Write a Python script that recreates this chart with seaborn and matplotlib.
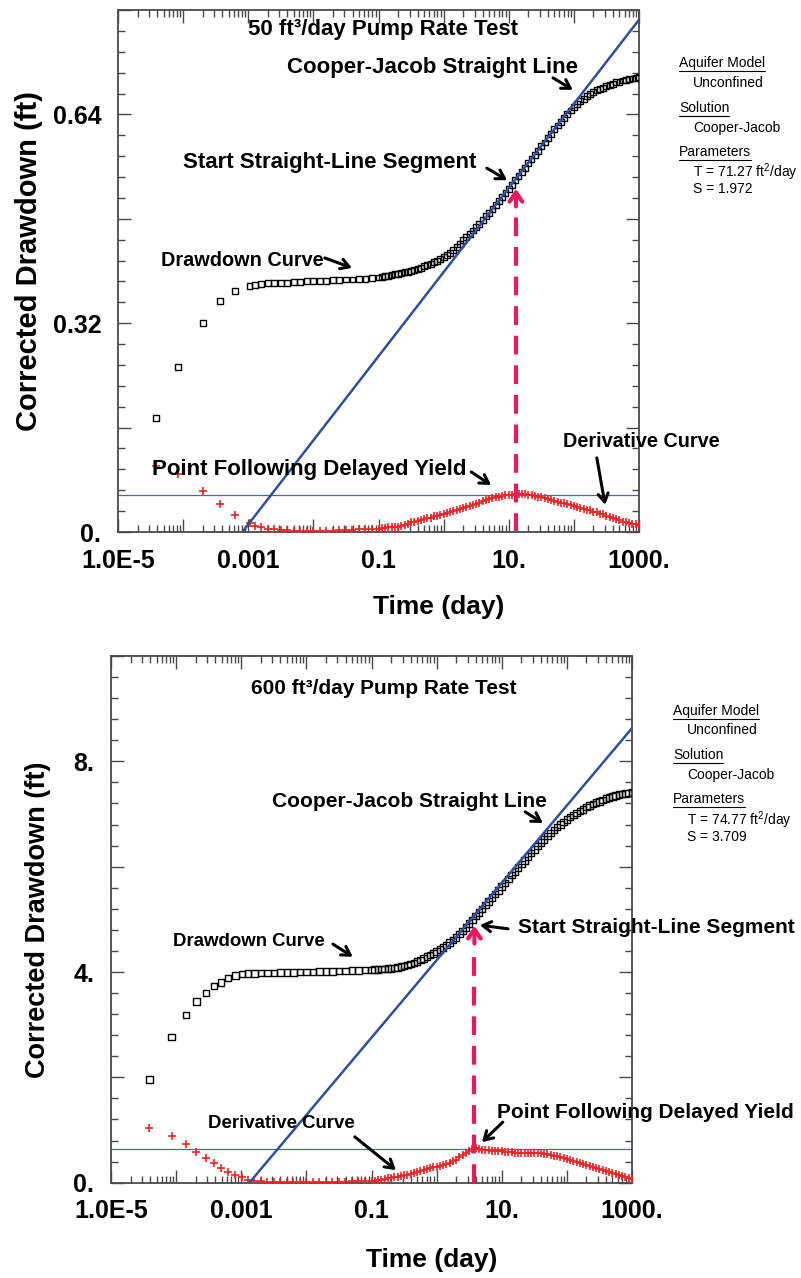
import numpy as np
import pandas as pd
import matplotlib
matplotlib.use("Agg")
import matplotlib.pyplot as plt
import seaborn as sns
from matplotlib.ticker import MultipleLocator, LogLocator, FuncFormatter, NullFormatter
from matplotlib.lines import Line2D

# ---------------------------------------------------------------------------
# Pumping-test data (time given as log10 of days)
# ---------------------------------------------------------------------------
LATE_LOG_T = [
    -2.9, -2.8, -2.7, -2.6, -2.5, -2.4, -2.3, -2.2, -2.1, -2.0,
    -1.9, -1.8, -1.7, -1.6, -1.5, -1.4, -1.3, -1.2, -1.1, -1.0,
    -0.95, -0.90, -0.85, -0.80, -0.75, -0.70, -0.65, -0.60, -0.55, -0.50,
    -0.45, -0.40, -0.35, -0.30, -0.25, -0.20, -0.15, -0.10, -0.05, 0.00,
    0.05, 0.10, 0.15, 0.20, 0.25, 0.30, 0.35, 0.40, 0.45, 0.50,
    0.55, 0.60, 0.65, 0.70, 0.75, 0.80, 0.85, 0.90, 0.95, 1.00,
    1.05, 1.10, 1.15, 1.20, 1.25, 1.30, 1.35, 1.40, 1.45, 1.50,
    1.55, 1.60, 1.65, 1.70, 1.75, 1.80, 1.85, 1.90, 1.95, 2.00,
    2.05, 2.10, 2.15, 2.20, 2.25, 2.30, 2.35, 2.40, 2.45, 2.50,
    2.55, 2.60, 2.65, 2.70, 2.75, 2.80, 2.85, 2.90, 2.95, 3.00,
]

# 50 ft3/day test
LOW_EARLY_LOG_T = [-4.42, -4.08, -3.69, -3.43, -3.20, -2.98]
LOW_EARLY_DRAWDOWN = [0.175, 0.253, 0.320, 0.354, 0.369, 0.377]
LOW_EARLY_DERIV = [0.101, 0.089, 0.063, 0.043, 0.026, 0.014]
LOW_LATE_DRAWDOWN = [
    0.379, 0.380, 0.381, 0.381, 0.382, 0.382, 0.383, 0.383, 0.384, 0.384,
    0.385, 0.385, 0.386, 0.386, 0.387, 0.387, 0.388, 0.388, 0.389, 0.390,
    0.391, 0.392, 0.393, 0.394, 0.395, 0.396, 0.397, 0.398, 0.399, 0.400,
    0.402, 0.403, 0.405, 0.407, 0.409, 0.411, 0.414, 0.416, 0.419, 0.421,
    0.424, 0.428, 0.432, 0.437, 0.442, 0.447, 0.452, 0.457, 0.462, 0.467,
    0.472, 0.478, 0.484, 0.489, 0.495, 0.501, 0.507, 0.513, 0.520, 0.526,
    0.532, 0.539, 0.545, 0.552, 0.558, 0.565, 0.571, 0.578, 0.584, 0.591,
    0.597, 0.604, 0.610, 0.617, 0.623, 0.629, 0.635, 0.641, 0.646, 0.651,
    0.656, 0.660, 0.664, 0.668, 0.671, 0.674, 0.677, 0.679, 0.681, 0.683,
    0.685, 0.687, 0.689, 0.690, 0.692, 0.693, 0.694, 0.695, 0.696, 0.697,
]
LOW_LATE_DERIV = [
    0.009, 0.007, 0.005, 0.004, 0.003, 0.003, 0.002, 0.002, 0.002, 0.002,
    0.002, 0.002, 0.002, 0.003, 0.003, 0.003, 0.004, 0.004, 0.005, 0.005,
    0.006, 0.006, 0.007, 0.007, 0.008, 0.008, 0.009, 0.011, 0.013, 0.015,
    0.016, 0.017, 0.019, 0.020, 0.021, 0.022, 0.024, 0.025, 0.026, 0.027,
    0.029, 0.030, 0.032, 0.034, 0.035, 0.037, 0.039, 0.040, 0.042, 0.043,
    0.045, 0.047, 0.049, 0.050, 0.052, 0.053, 0.054, 0.055, 0.056, 0.057,
    0.057, 0.058, 0.058, 0.058, 0.058, 0.057, 0.056, 0.055, 0.054, 0.053,
    0.052, 0.050, 0.049, 0.048, 0.046, 0.045, 0.044, 0.043, 0.041, 0.040,
    0.039, 0.037, 0.036, 0.034, 0.033, 0.031, 0.030, 0.028, 0.027, 0.025,
    0.023, 0.021, 0.020, 0.018, 0.016, 0.015, 0.014, 0.013, 0.012, 0.011,
]
LOW_CJ_LOG_T = [-3.09, 3.0]
LOW_CJ_DRAWDOWN = [0.0, 0.785]
LOW_PEAK_DERIV = 0.057
LOW_SEG_LOG_T = 1.11
LOW_SEG_DRAWDOWN = 0.526

# 600 ft3/day test
HIGH_EARLY_LOG_T = [-4.41, -4.07, -3.85, -3.69, -3.54, -3.42, -3.31, -3.20, -3.09, -2.99]
HIGH_EARLY_DRAWDOWN = [1.96, 2.77, 3.18, 3.44, 3.60, 3.73, 3.80, 3.89, 3.93, 3.96]
HIGH_EARLY_DERIV = [1.03, 0.89, 0.73, 0.58, 0.47, 0.38, 0.285, 0.20, 0.15, 0.10]
HIGH_LATE_DRAWDOWN = [
    3.97, 3.97, 3.98, 3.98, 3.98, 3.99, 3.99, 3.99, 4.00, 4.00,
    4.00, 4.01, 4.01, 4.01, 4.02, 4.02, 4.03, 4.03, 4.04, 4.04,
    4.05, 4.05, 4.06, 4.06, 4.07, 4.07, 4.08, 4.09, 4.10, 4.11,
    4.13, 4.15, 4.17, 4.20, 4.23, 4.26, 4.29, 4.32, 4.35, 4.39,
    4.43, 4.47, 4.51, 4.56, 4.61, 4.66, 4.72, 4.78, 4.85, 4.92,
    4.99, 5.06, 5.13, 5.20, 5.27, 5.34, 5.41, 5.48, 5.55, 5.62,
    5.69, 5.77, 5.84, 5.91, 5.98, 6.05, 6.12, 6.19, 6.26, 6.33,
    6.39, 6.46, 6.52, 6.58, 6.64, 6.70, 6.75, 6.80, 6.85, 6.90,
    6.94, 6.98, 7.02, 7.06, 7.09, 7.13, 7.16, 7.19, 7.22, 7.24,
    7.27, 7.29, 7.31, 7.33, 7.35, 7.37, 7.38, 7.39, 7.40, 7.41,
]
HIGH_LATE_DERIV = [
    0.06, 0.04, 0.03, 0.02, 0.02, 0.02, 0.02, 0.02, 0.02, 0.02,
    0.02, 0.02, 0.02, 0.02, 0.02, 0.02, 0.03, 0.03, 0.03, 0.03,
    0.04, 0.05, 0.06, 0.07, 0.08, 0.09, 0.10, 0.11, 0.12, 0.14,
    0.15, 0.17, 0.19, 0.21, 0.22, 0.24, 0.26, 0.27, 0.29, 0.30,
    0.32, 0.34, 0.36, 0.38, 0.41, 0.44, 0.48, 0.52, 0.56, 0.60,
    0.64, 0.65, 0.64, 0.63, 0.63, 0.62, 0.61, 0.61, 0.60, 0.60,
    0.59, 0.58, 0.58, 0.57, 0.57, 0.57, 0.56, 0.56, 0.56, 0.56,
    0.56, 0.56, 0.55, 0.54, 0.53, 0.51, 0.50, 0.48, 0.47, 0.45,
    0.43, 0.41, 0.39, 0.37, 0.35, 0.33, 0.31, 0.29, 0.27, 0.26,
    0.24, 0.22, 0.20, 0.18, 0.16, 0.14, 0.12, 0.10, 0.09, 0.07,
]
HIGH_CJ_LOG_T = [-2.875, 3.0]
HIGH_CJ_DRAWDOWN = [0.0, 8.63]
HIGH_PEAK_DERIV = 0.64
HIGH_SEG_LOG_T = 0.58
HIGH_SEG_DRAWDOWN = 4.88

X_TICK_LABELS = {-5: "1.0E-5", -3: "0.001", -1: "0.1", 1: "10.", 3: "1000."}

# ---------------------------------------------------------------------------
sns.set_theme(style="ticks")
plt.rcParams["font.family"] = ["Liberation Sans", "DejaVu Sans"]
plt.rcParams["mathtext.fontset"] = "custom"
plt.rcParams["mathtext.rm"] = "Liberation Sans"
plt.rcParams["text.color"] = "black"
plt.rcParams["axes.labelcolor"] = "black"
plt.rcParams["xtick.labelcolor"] = "black"
plt.rcParams["ytick.labelcolor"] = "black"

BLUE = "#2f4fa2"
HBLUE = "#4a67ad"
RED = "#ee2424"
MAGENTA = "#e8195e"
FRAME = "#4a4a4a"

W, H = 801, 1278
fig = plt.figure(figsize=(W / 100, H / 100), dpi=100)


def px_axes(left, top, right, bottom):
    return fig.add_axes([left / W, 1 - bottom / H, (right - left) / W, (bottom - top) / H])


ax_top = px_axes(118, 10, 639, 532)
ax_bot = px_axes(111, 656, 632, 1182.7)


def panel_frames(early_t, early_s, early_d, late_s, late_d):
    t = 10.0 ** np.array(list(early_t) + LATE_LOG_T)
    dd = pd.DataFrame({"time": t, "drawdown": list(early_s) + list(late_s)})
    dv = pd.DataFrame({"time": t, "derivative": list(early_d) + list(late_d)})
    return dd, dv


def style_axes(ax, ymax, major, minor, label_step, fmt):
    ax.set_xscale("log")
    ax.set_xlim(1e-5, 1e3)
    ax.set_ylim(0, ymax)
    ax.xaxis.set_major_locator(LogLocator(base=10, numticks=20))
    ax.xaxis.set_minor_locator(LogLocator(base=10, subs=np.arange(2, 10), numticks=20))
    ax.xaxis.set_minor_formatter(NullFormatter())
    ax.xaxis.set_major_formatter(FuncFormatter(
        lambda v, p: X_TICK_LABELS.get(int(round(np.log10(v))), "") if v > 0 else ""))
    ax.yaxis.set_major_locator(MultipleLocator(major))
    ax.yaxis.set_minor_locator(MultipleLocator(minor))

    def yfmt(v, p):
        if abs(v) < 1e-9:
            return "0."
        q = v / label_step
        if abs(q - round(q)) < 1e-6:
            return fmt(v)
        return ""

    ax.yaxis.set_major_formatter(FuncFormatter(yfmt))
    ax.tick_params(which="both", direction="in", top=True, right=True, color=FRAME, width=1.0)
    ax.tick_params(which="major", length=9.5)
    ax.tick_params(which="minor", length=5)
    ax.tick_params(axis="x", which="major", pad=12, labelsize=18)
    ax.tick_params(axis="y", which="major", pad=12, labelsize=18)
    for lab in ax.get_xticklabels() + ax.get_yticklabels():
        lab.set_fontweight("bold")
    for sp in ax.spines.values():
        sp.set_color(FRAME)
        sp.set_linewidth(1.3)
    ax.grid(False)


def draw_panel(ax, dd, dv, cj_t, cj_s, peak, seg_t, seg_s, ymax, sq, cross):
    sns.scatterplot(data=dd, x="time", y="drawdown", ax=ax, marker="s", s=sq,
                    color="black", facecolor="none", edgecolor="black",
                    linewidth=1.0, legend=False, zorder=3)
    sns.scatterplot(data=dv, x="time", y="derivative", ax=ax, marker="+", s=cross,
                    color=RED, linewidth=1.2, legend=False, zorder=3)
    sns.lineplot(x=10.0 ** np.array(cj_t), y=cj_s, ax=ax, color=BLUE, lw=1.8, zorder=4)
    ax.axhline(peak, color=HBLUE, lw=0.9, zorder=2)
    seg = 10.0 ** seg_t
    head = 0.045 * ymax
    ax.plot([seg, seg], [0, seg_s - head * 0.9], color=MAGENTA, lw=3,
            ls=(0, (4.5, 2.6)), zorder=5, solid_capstyle="butt")
    ax.annotate("", xy=(seg, seg_s), xytext=(seg, seg_s - head * 0.75),
                arrowprops=dict(arrowstyle="->,head_length=0.55,head_width=0.38",
                                color=MAGENTA, lw=3, shrinkA=0, shrinkB=0), zorder=6)
    ax.set_xlabel("")
    ax.set_ylabel("")


def note(ax, text, x, y, size, ha="left"):
    ax.text(x, y, text, transform=ax.transAxes, fontsize=size, fontweight="bold",
            color="black", ha=ha, va="center", clip_on=False, zorder=7)


def pointer(ax, tail, head):
    ax.annotate("", xy=head, xytext=tail, xycoords="axes fraction",
                textcoords="axes fraction", annotation_clip=False,
                arrowprops=dict(arrowstyle="->,head_length=0.5,head_width=0.3",
                                color="black", lw=2.2, shrinkA=0, shrinkB=0), zorder=7)


# ---------------------------- 50 ft3/day panel -----------------------------
dd_low, dv_low = panel_frames(LOW_EARLY_LOG_T, LOW_EARLY_DRAWDOWN, LOW_EARLY_DERIV,
                              LOW_LATE_DRAWDOWN, LOW_LATE_DERIV)
draw_panel(ax_top, dd_low, dv_low, LOW_CJ_LOG_T, LOW_CJ_DRAWDOWN, LOW_PEAK_DERIV,
           LOW_SEG_LOG_T, LOW_SEG_DRAWDOWN, 0.8, 18, 30)
style_axes(ax_top, 0.8, 0.16, 0.032, 0.32, lambda v: f"{v:.2f}")

note(ax_top, "50 ft\u00b3/day Pump Rate Test", 0.509, 0.962, 16, ha="center")
note(ax_top, "Cooper-Jacob Straight Line", 0.324, 0.889, 16)
pointer(ax_top, (0.835, 0.870), (0.873, 0.847))
note(ax_top, "Start Straight-Line Segment", 0.125, 0.707, 16)
pointer(ax_top, (0.708, 0.697), (0.747, 0.674))
note(ax_top, "Drawdown Curve", 0.0825, 0.521, 14.3)
pointer(ax_top, (0.397, 0.525), (0.449, 0.506))
note(ax_top, "Point Following Delayed Yield", 0.065, 0.119, 16)
pointer(ax_top, (0.678, 0.115), (0.716, 0.090))
note(ax_top, "Derivative Curve", 0.854, 0.174, 14.3)
pointer(ax_top, (0.919, 0.142), (0.935, 0.052))

ax_top.set_ylabel("Corrected Drawdown (ft)", fontsize=21, fontweight="bold", va="center")
ax_top.yaxis.set_label_coords(-0.171, 0.519)
ax_top.set_xlabel("Time (day)", fontsize=19, fontweight="bold", va="center")
ax_top.xaxis.set_label_coords(0.615, -0.144)

# ---------------------------- 600 ft3/day panel ----------------------------
dd_high, dv_high = panel_frames(HIGH_EARLY_LOG_T, HIGH_EARLY_DRAWDOWN, HIGH_EARLY_DERIV,
                                HIGH_LATE_DRAWDOWN, HIGH_LATE_DERIV)
draw_panel(ax_bot, dd_high, dv_high, HIGH_CJ_LOG_T, HIGH_CJ_DRAWDOWN, HIGH_PEAK_DERIV,
           HIGH_SEG_LOG_T, HIGH_SEG_DRAWDOWN, 10.0, 22, 34)
style_axes(ax_bot, 10.0, 2.0, 0.4, 4.0, lambda v: f"{v:.0f}.")

note(ax_bot, "600 ft\u00b3/day Pump Rate Test", 0.524, 0.939, 15, ha="center")
note(ax_bot, "Cooper-Jacob Straight Line", 0.309, 0.723, 15)
pointer(ax_bot, (0.795, 0.704), (0.829, 0.683))
note(ax_bot, "Drawdown Curve", 0.119, 0.457, 13.4)
pointer(ax_bot, (0.426, 0.453), (0.464, 0.429))
note(ax_bot, "Start Straight-Line Segment", 0.781, 0.484, 15)
pointer(ax_bot, (0.762, 0.482), (0.708, 0.489))
note(ax_bot, "Derivative Curve", 0.186, 0.113, 13.4)
pointer(ax_bot, (0.468, 0.087), (0.547, 0.024))
note(ax_bot, "Point Following Delayed Yield", 0.741, 0.134, 15)
pointer(ax_bot, (0.752, 0.115), (0.712, 0.077))

ax_bot.set_ylabel("Corrected Drawdown (ft)", fontsize=19.5, fontweight="bold", va="center")
ax_bot.yaxis.set_label_coords(-0.141, 0.50)
ax_bot.set_xlabel("Time (day)", fontsize=19, fontweight="bold", va="center")
ax_bot.xaxis.set_label_coords(0.615, -0.147)

# ------------------------------ side legends -------------------------------
underlined = []


def side_block(x0, x1, ys, t_val, s_val):
    entries = [("Aquifer Model", x0, True), ("Unconfined", x1, False),
               ("Solution", x0, True), ("Cooper-Jacob", x1, False),
               ("Parameters", x0, True),
               (f"T = {t_val} ft$\\mathregular{{^2}}$/day", x1, False),
               (f"S = {s_val}", x1, False)]
    for (txt, x, ul), y in zip(entries, ys):
        t = fig.text(x / W, 1 - y / H, txt, fontsize=10, color="black",
                     ha="left", va="center")
        if ul:
            underlined.append(t)


side_block(679, 693, [63, 83, 108, 128, 152, 172, 189], "71.27", "1.972")
side_block(673, 687, [711, 730, 755, 775, 799, 820, 837], "74.77", "3.709")

fig.canvas.draw()
renderer = fig.canvas.get_renderer()
for t in underlined:
    bb = t.get_window_extent(renderer)
    y = bb.y0 - 1
    fig.add_artist(Line2D([bb.x0 / W, bb.x1 / W], [y / H, y / H],
                          transform=fig.transFigure, color="black", lw=0.8))

fig.savefig("out.png", dpi=100)
